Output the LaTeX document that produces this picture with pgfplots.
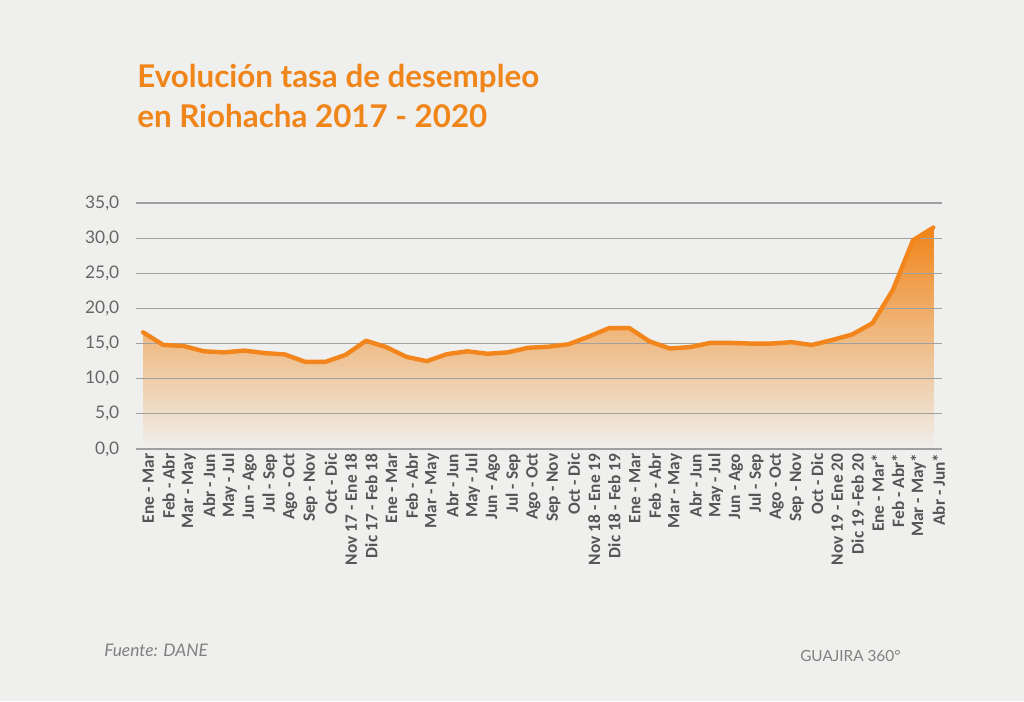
\documentclass[border=0pt]{standalone}
\usepackage{pgfplots}
\usepackage{pgfplotstable}
\pgfplotsset{compat=1.18}
\usepackage{fontspec}
\setmainfont{Lato}
\newfontfamily\carlito{Carlito}
\definecolor{bgcol}{HTML}{EFEFED}
\definecolor{orng}{HTML}{F08519}
\definecolor{linec}{HTML}{F2861C}
\definecolor{gridc}{HTML}{A0A0A0}
\definecolor{tickc}{HTML}{666666}
\definecolor{xlabc}{HTML}{555555}
\pgfplotstableread{
x y
0 16.6
1 14.8
2 14.65
3 13.9
4 13.75
5 14.0
6 13.65
7 13.45
8 12.4
9 12.4
10 13.4
11 15.4
12 14.5
13 13.1
14 12.5
15 13.5
16 13.9
17 13.55
18 13.75
19 14.4
20 14.55
21 14.9
22 16.0
23 17.2
24 17.2
25 15.3
26 14.3
27 14.5
28 15.1
29 15.1
30 15.0
31 15.0
32 15.2
33 14.8
34 15.5
35 16.3
36 17.9
37 22.6
38 29.7
39 31.5
}\datatable
\begin{document}
\begin{tikzpicture}
\fill[bgcol] (0,0) rectangle (768pt,525.75pt);
\node[anchor=base west, inner sep=0, font=\bfseries\fontsize{23.5}{27}\selectfont, text=orng] at (102.75pt,459.75pt) {Evolución tasa de desempleo};
\node[anchor=base west, inner sep=0, font=\bfseries\fontsize{23.5}{27}\selectfont, text=orng] at (102.75pt,429.75pt) {en Riohacha 2017 - 2020};
\node[anchor=base west, inner sep=0, font=\itshape\fontsize{13}{15}\selectfont, text=gray] at (78pt,33.75pt) {Fuente: DANE};
\node[anchor=base west, inner sep=0, font=\fontsize{11.5}{14}\selectfont, text=gray] at (600pt,30pt) {GUAJIRA 360°};
\begin{axis}[
  at={(102pt,189pt)}, anchor=south west,
  scale only axis, width=604.5pt, height=184.5pt,
  xmin=-0.35, xmax=39.43, ymin=0, ymax=35,
  clip=false,
  axis line style={draw=none},
  major tick length=0pt,
  ytick={0,5,...,35},
  xtick={0,...,39},
  xticklabels={Ene - Mar, Feb - Abr, Mar - May, Abr - Jun, May - Jul, Jun - Ago, Jul - Sep, Ago - Oct, Sep - Nov, Oct - Dic, Nov 17 - Ene 18, Dic 17 - Feb 18, Ene - Mar, Feb - Abr, Mar - May, Abr - Jun, May - Jul, Jun - Ago, Jul - Sep, Ago - Oct, Sep - Nov, Oct - Dic, Nov 18 - Ene 19, Dic 18 - Feb 19, Ene - Mar, Feb - Abr, Mar - May, Abr - Jun, May - Jul, Jun - Ago, Jul - Sep, Ago - Oct, Sep - Nov, Oct - Dic, Nov 19 - Ene 20, Dic 19 -Feb 20, Ene - Mar*, Feb - Abr*, Mar - May*, Abr - Jun*},
  x tick label style={rotate=90, anchor=east, yshift=-4pt, font=\carlito\bfseries\fontsize{13}{14}\selectfont, text=xlabc},
  y tick label style={anchor=east, xshift=-9pt, font=\fontsize{13}{15}\selectfont, text=tickc,
    /pgf/number format/.cd, fixed, fixed zerofill, precision=1, use comma, assume math mode=true},
]
\addplot[draw=none, top color=orng, middle color=orng!62!bgcol, bottom color=bgcol] table[x=x,y=y] {\datatable} \closedcycle;
\pgfplotsinvokeforeach{0,5,10,15,20,25,30,35}{
  \addplot[gridc, line width=0.9pt, forget plot] coordinates {(-0.35,#1) (39.43,#1)};
}
\addplot[linec, line width=3.3pt, line join=round, line cap=round] table[x=x,y=y] {\datatable};
\end{axis}
\end{tikzpicture}
\end{document}
